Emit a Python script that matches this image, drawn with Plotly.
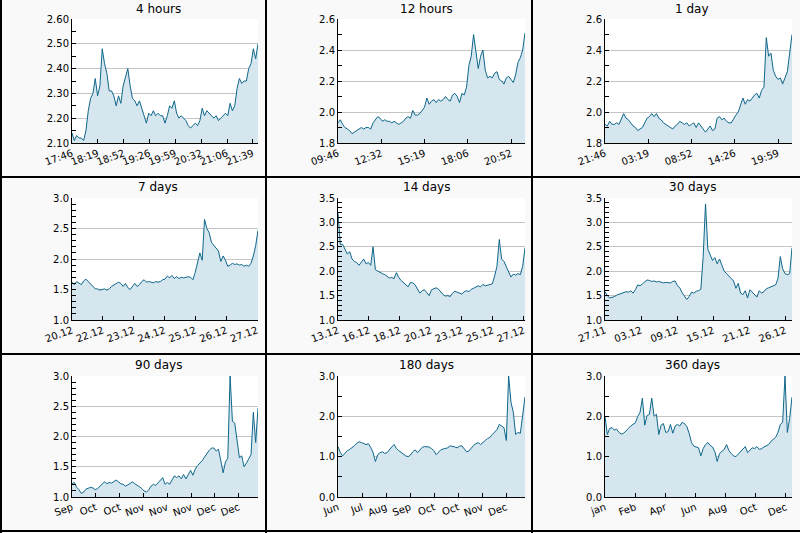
import plotly.graph_objects as go

W, H = 800, 533

titles = ["4 hours", "12 hours", "1 day", "7 days", "14 days", "30 days",
          "90 days", "180 days", "360 days"]

v_4h = [2.14, 2.11, 2.13, 2.12, 2.12, 2.11, 2.15, 2.23, 2.28, 2.30, 2.36, 2.29, 2.33, 2.48, 2.42, 2.38,
        2.31, 2.31, 2.29, 2.25, 2.29, 2.26, 2.33, 2.37, 2.40, 2.33, 2.28, 2.27, 2.25, 2.27, 2.24, 2.22,
        2.18, 2.22, 2.21, 2.23, 2.21, 2.22, 2.21, 2.21, 2.18, 2.21, 2.25, 2.24, 2.27, 2.22, 2.20, 2.21,
        2.20, 2.19, 2.17, 2.16, 2.17, 2.18, 2.17, 2.19, 2.24, 2.21, 2.23, 2.22, 2.21, 2.20, 2.21, 2.19,
        2.20, 2.21, 2.22, 2.21, 2.26, 2.23, 2.25, 2.32, 2.36, 2.34, 2.35, 2.35, 2.40, 2.42, 2.48, 2.44, 2.50]
v_12h = [1.93, 1.95, 1.92, 1.90, 1.89, 1.88, 1.86, 1.87, 1.88, 1.89, 1.90, 1.89, 1.90, 1.90, 1.89, 1.93,
         1.95, 1.97, 1.96, 1.94, 1.95, 1.94, 1.94, 1.93, 1.94, 1.93, 1.92, 1.93, 1.94, 1.96, 1.97, 1.96,
         2.01, 1.98, 1.98, 1.99, 2.01, 2.03, 2.09, 2.05, 2.07, 2.08, 2.06, 2.08, 2.07, 2.08, 2.10, 2.08,
         2.07, 2.11, 2.12, 2.10, 2.06, 2.12, 2.11, 2.16, 2.30, 2.36, 2.50, 2.38, 2.28, 2.36, 2.40, 2.27,
         2.22, 2.23, 2.22, 2.25, 2.26, 2.21, 2.20, 2.18, 2.22, 2.23, 2.21, 2.19, 2.24, 2.32, 2.35, 2.40, 2.51]
v_1d = [1.92, 1.91, 1.94, 1.92, 1.92, 1.93, 1.92, 1.95, 1.99, 1.96, 1.95, 1.93, 1.91, 1.90, 1.88, 1.89,
        1.90, 1.93, 1.96, 1.97, 1.99, 1.97, 1.99, 1.96, 1.95, 1.93, 1.92, 1.91, 1.90, 1.89, 1.91, 1.92,
        1.94, 1.93, 1.92, 1.93, 1.91, 1.92, 1.93, 1.90, 1.93, 1.91, 1.89, 1.87, 1.89, 1.91, 1.88, 1.89,
        1.96, 1.97, 1.95, 1.96, 1.94, 1.93, 1.93, 1.96, 1.98, 2.00, 2.04, 2.09, 2.05, 2.08, 2.07, 2.09,
        2.11, 2.12, 2.09, 2.14, 2.16, 2.48, 2.36, 2.38, 2.27, 2.23, 2.21, 2.22, 2.18, 2.22, 2.26, 2.38, 2.50]
v_7d = [1.62, 1.58, 1.63, 1.60, 1.58, 1.64, 1.67, 1.63, 1.59, 1.55, 1.51, 1.51, 1.49, 1.50, 1.51, 1.49,
        1.51, 1.55, 1.57, 1.60, 1.62, 1.60, 1.55, 1.60, 1.53, 1.50, 1.56, 1.60, 1.55, 1.58, 1.63, 1.66,
        1.62, 1.63, 1.62, 1.61, 1.63, 1.62, 1.63, 1.66, 1.67, 1.72, 1.69, 1.73, 1.68, 1.71, 1.68, 1.70,
        1.69, 1.70, 1.71, 1.70, 1.66, 1.78, 1.92, 2.10, 1.98, 2.65, 2.50, 2.43, 2.27, 2.22, 2.18, 2.13,
        1.96, 2.05, 1.98, 1.88, 1.90, 1.93, 1.91, 1.92, 1.90, 1.91, 1.88, 1.90, 1.88, 1.93, 2.05, 2.22, 2.47]
v_14d = [3.20, 2.55, 2.55, 2.45, 2.35, 2.40, 2.25, 2.20, 2.18, 2.12, 2.20, 2.25, 2.15, 2.18, 2.12, 2.50,
         2.03, 2.00, 1.98, 1.95, 1.93, 1.90, 1.86, 1.87, 1.85, 1.97, 1.87, 1.81, 1.76, 1.72, 1.68, 1.77,
         1.76, 1.72, 1.64, 1.55, 1.60, 1.62, 1.56, 1.50, 1.62, 1.64, 1.66, 1.63, 1.57, 1.52, 1.49, 1.50,
         1.48, 1.55, 1.59, 1.57, 1.54, 1.53, 1.58, 1.60, 1.58, 1.63, 1.65, 1.67, 1.70, 1.68, 1.73, 1.70,
         1.71, 1.72, 1.74, 1.90, 2.10, 2.65, 2.25, 2.20, 2.10, 1.97, 1.88, 1.94, 1.92, 1.95, 1.93, 2.10, 2.48]
v_30d = [1.58, 1.50, 1.45, 1.46, 1.48, 1.51, 1.53, 1.55, 1.57, 1.58, 1.57, 1.60, 1.55, 1.62, 1.72, 1.70,
         1.74, 1.78, 1.82, 1.81, 1.79, 1.80, 1.78, 1.79, 1.77, 1.76, 1.77, 1.76, 1.76, 1.79, 1.80, 1.70,
         1.66, 1.56, 1.48, 1.42, 1.48, 1.57, 1.55, 1.59, 1.60, 1.63, 2.30, 3.38, 2.45, 2.35, 2.22, 2.28,
         2.15, 2.25, 2.10, 2.00, 1.95, 1.90, 1.86, 1.80, 1.65, 1.75, 1.55, 1.52, 1.60, 1.45, 1.62, 1.57,
         1.52, 1.47, 1.60, 1.55, 1.58, 1.64, 1.66, 1.68, 1.70, 1.72, 1.85, 2.30, 2.05, 1.95, 1.93, 1.95, 2.48]
v_90d = [1.22, 1.24, 1.16, 1.12, 1.06, 1.08, 1.13, 1.15, 1.16, 1.15, 1.12, 1.14, 1.18, 1.21, 1.25, 1.22,
         1.24, 1.23, 1.26, 1.28, 1.25, 1.22, 1.21, 1.18, 1.20, 1.23, 1.25, 1.22, 1.20, 1.17, 1.14, 1.10,
         1.08, 1.12, 1.18, 1.21, 1.19, 1.23, 1.28, 1.32, 1.21, 1.24, 1.21, 1.28, 1.35, 1.32, 1.35, 1.30,
         1.37, 1.30, 1.38, 1.44, 1.36, 1.46, 1.52, 1.56, 1.60, 1.66, 1.72, 1.77, 1.81, 1.81, 1.76, 1.79,
         1.60, 1.40, 1.58, 1.64, 3.00, 2.25, 2.22, 1.90, 1.65, 1.68, 1.50, 1.56, 1.62, 1.70, 2.40, 1.90, 2.47]
v_180d = [1.25, 1.10, 1.02, 1.10, 1.15, 1.18, 1.22, 1.27, 1.33, 1.37, 1.35, 1.33, 1.30, 1.32, 1.23, 1.10,
          0.88, 1.05, 1.10, 1.12, 1.08, 1.10, 1.18, 1.24, 1.30, 1.20, 1.15, 1.10, 1.05, 1.02, 1.00, 1.04,
          1.12, 1.17, 1.10, 1.18, 1.23, 1.25, 1.25, 1.24, 1.20, 1.15, 1.05, 1.12, 1.17, 1.19, 1.20, 1.22,
          1.27, 1.26, 1.24, 1.22, 1.26, 1.27, 1.20, 1.12, 1.14, 1.22, 1.28, 1.32, 1.35, 1.30, 1.36, 1.40,
          1.45, 1.48, 1.55, 1.60, 1.67, 1.80, 1.77, 1.72, 1.40, 3.00, 2.35, 2.10, 1.55, 1.60, 1.58, 2.00, 2.48]
v_360d = [2.00, 1.55, 1.70, 1.72, 1.66, 1.68, 1.60, 1.56, 1.58, 1.63, 1.70, 1.76, 1.80, 1.84, 2.00, 2.10,
          2.45, 1.78, 2.02, 2.05, 2.45, 2.00, 2.05, 1.55, 1.78, 1.82, 1.60, 1.62, 1.80, 1.58, 1.76, 1.80,
          1.76, 1.85, 1.82, 1.75, 1.58, 1.35, 1.26, 1.24, 1.22, 1.02, 1.20, 1.30, 1.35, 1.28, 1.24, 1.12,
          0.88, 1.08, 1.12, 1.18, 1.30, 1.15, 1.08, 1.02, 1.00, 1.06, 1.12, 1.20, 1.25, 1.10, 1.17, 1.22,
          1.20, 1.25, 1.18, 1.20, 1.24, 1.27, 1.30, 1.38, 1.42, 1.48, 1.60, 1.80, 1.85, 3.00, 1.60, 1.95, 2.48]

series = [v_4h, v_12h, v_1d, v_7d, v_14d, v_30d, v_90d, v_180d, v_360d]

labels = [
    ["17:46", "18:19", "18:52", "19:26", "19:59", "20:32", "21:06", "21:39"],
    ["09:46", "12:32", "15:19", "18:06", "20:52"],
    ["21:46", "03:19", "08:52", "14:26", "19:59"],
    ["20.12", "22.12", "23.12", "24.12", "25.12", "26.12", "27.12"],
    ["13.12", "16.12", "18.12", "20.12", "23.12", "25.12", "27.12"],
    ["27.11", "03.12", "09.12", "15.12", "21.12", "26.12"],
    ["Sep", "Oct", "Oct", "Nov", "Nov", "Nov", "Dec", "Dec"],
    ["Jun", "Jul", "Aug", "Sep", "Oct", "Oct", "Nov", "Dec"],
    ["jan", "Feb", "Apr", "Jun", "Aug", "Oct", "Dec"],
]
# spacing of labels as fraction of the time span
label_step = [1 / 7.2, 1 / 4.32, 1 / 4.32, 0.1658, 0.1655, 0.1929, 0.128, 0.1285, 0.1613]

y_ranges = [(2.1, 2.6), (1.8, 2.6), (1.8, 2.6), (1.0, 3.0), (1.0, 3.5), (1.0, 3.5),
            (1.0, 3.0), (0.0, 3.0), (0.0, 3.0)]
y_dtick = [0.1, 0.2, 0.2, 0.5, 0.5, 0.5, 0.5, 1.0, 1.0]
y_minor = [0.05, 0.1, 0.1, 0.1, 0.1, 0.1, 0.1, 0.5, 0.5]
y_fmt = [".2f", ".1f", ".1f", ".1f", ".1f", ".1f", ".1f", ".1f", ".1f"]

col_px = [(72, 258), (338, 525), (605, 792)]
row_px = [(19, 143), (198, 320), (376, 497)]
title_x_px = [158, 426, 692]
title_y_px = [9, 187, 365]

LINE = "#0f678b"
FILL = "#d6e6ee"
FONT = "DejaVu Sans"

fig = go.Figure()
layout = dict(
    template="none",
    width=W, height=H, margin=dict(l=0, r=0, t=0, b=0, pad=0, autoexpand=False),
    autosize=False,
    paper_bgcolor="#f9f9f9", plot_bgcolor="#ffffff",
    showlegend=False, font=dict(family=FONT, size=10, color="#000000"),
)
annotations = []
for i, vals in enumerate(series):
    r, c = divmod(i, 3)
    n = i + 1
    xa = "x" if n == 1 else f"x{n}"
    ya = "y" if n == 1 else f"y{n}"
    fig.add_trace(go.Scatter(
        y=vals, x=list(range(len(vals))), mode="lines",
        line=dict(color=LINE, width=1), fill="tozeroy", fillcolor=FILL,
        xaxis=xa, yaxis=ya, hoverinfo="skip"))
    x0, x1 = col_px[c]
    t0, b0 = row_px[r]
    last = len(vals) - 1
    tv = [k * label_step[i] * last for k in range(len(labels[i]))]
    layout["xaxis" if n == 1 else f"xaxis{n}"] = dict(
        domain=[x0 / W, x1 / W], anchor=ya, range=[0, last], automargin=False,
        showgrid=False, zeroline=False, showline=True, linecolor="#000000", linewidth=1,
        ticks="inside", ticklen=4, tickcolor="#000000",
        tickmode="array", tickvals=tv, ticktext=labels[i], tickangle=-20,
        tickfont=dict(family=FONT, size=10, color="#000000"),
    )
    lo, hi = y_ranges[i]
    layout["yaxis" if n == 1 else f"yaxis{n}"] = dict(
        domain=[1 - b0 / H, 1 - t0 / H], anchor=xa, range=[lo, hi], automargin=False,
        showgrid=True, gridcolor="#c4c4c4", gridwidth=1, zeroline=False,
        showline=True, linecolor="#000000", linewidth=1,
        ticks="inside", ticklen=4, tickcolor="#000000",
        tick0=lo, dtick=y_dtick[i], tickformat=y_fmt[i],
        minor=dict(ticks="inside", ticklen=4, tickcolor="#000000", dtick=y_minor[i], tick0=lo, showgrid=False),
        tickfont=dict(family=FONT, size=10, color="#000000"),
    )
    annotations.append(dict(
        text=titles[i], xref="paper", yref="paper",
        x=title_x_px[c] / W, y=1 - title_y_px[r] / H, xanchor="center", yanchor="middle",
        showarrow=False, font=dict(family=FONT, size=12, color="#000000")))

shapes = []
for xp in [1, 266, 532]:
    shapes.append(dict(type="line", xref="paper", yref="paper", x0=xp / W, x1=xp / W, y0=0, y1=1,
                       line=dict(color="#000000", width=2)))
for yp in [177, 354, 531]:
    shapes.append(dict(type="line", xref="paper", yref="paper", x0=0, x1=1, y0=1 - yp / H, y1=1 - yp / H,
                       line=dict(color="#000000", width=2)))

layout["annotations"] = annotations
layout["shapes"] = shapes
fig.update_layout(**layout)
fig.write_html(
    "out.html",
    config={"displayModeBar": False},
    post_script="document.body.style.margin='0';document.body.style.padding='0';"
                "document.documentElement.style.overflow='hidden';",
)
